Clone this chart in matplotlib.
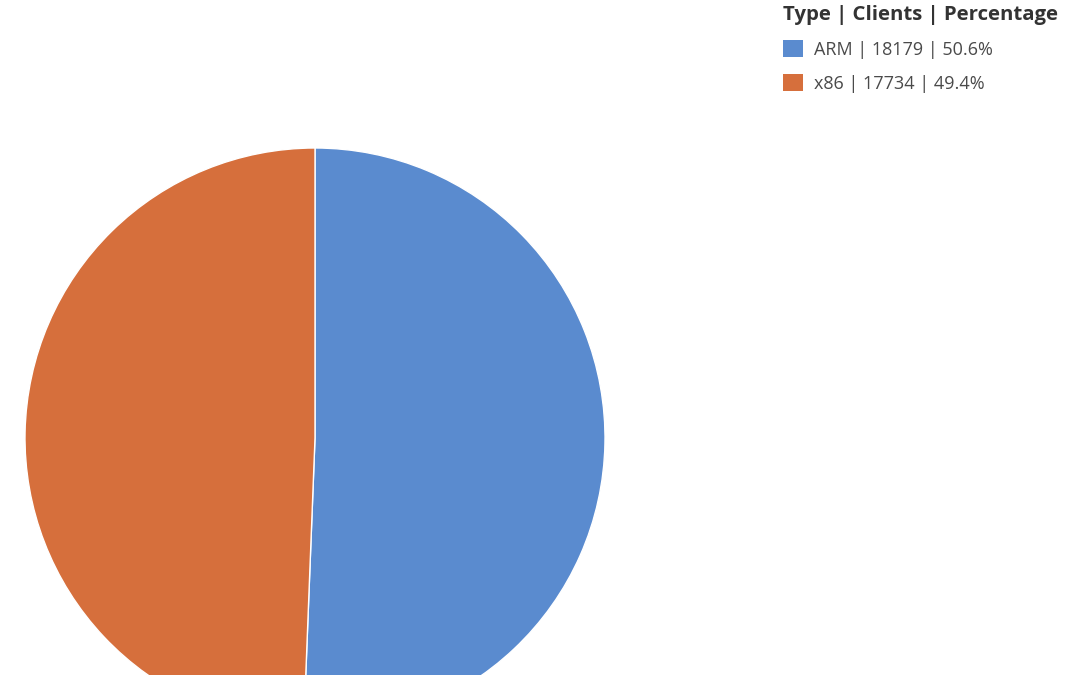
import matplotlib.pyplot as plt
from matplotlib.patches import Patch

types = ["ARM", "x86"]
clients = [18179, 17734]
percent = ["50.6%", "49.4%"]
colors = ["#5A8BCF", "#D66F3C"]

plt.rcParams['font.family'] = ['Open Sans', 'DejaVu Sans']

fig = plt.figure(figsize=(10.8, 6.75), dpi=100)
W, H = 1080, 675
cx, cy, r = 315, 675 - 438, 290
ax = fig.add_axes([(cx - r) / W, (cy - r) / H, 2 * r / W, 2 * r / H])
ax.pie(clients, colors=colors, startangle=90, counterclock=False,
       wedgeprops=dict(edgecolor="white", linewidth=1))
ax.set_xlim(-1, 1)
ax.set_ylim(-1, 1)
ax.set_aspect("equal")
ax.axis("off")

handles = [Patch(facecolor=c) for c in colors]
labels = [f"{t} | {n} | {p}" for t, n, p in zip(types, clients, percent)]
leg = fig.legend(handles, labels, title="Type | Clients | Percentage",
                 loc="upper left", bbox_to_anchor=(776 / W, 1.004),
                 frameon=False, fontsize=13, title_fontsize=14.7,
                 alignment="left", handlelength=1.1, handleheight=1.1,
                 handletextpad=0.6, labelspacing=0.85, borderaxespad=0.0)
leg.get_title().set_fontweight("bold")
leg.get_title().set_color("#333333")
for t in leg.get_texts():
    t.set_color("#4a4a4a")

fig.savefig("out.png", dpi=100)
